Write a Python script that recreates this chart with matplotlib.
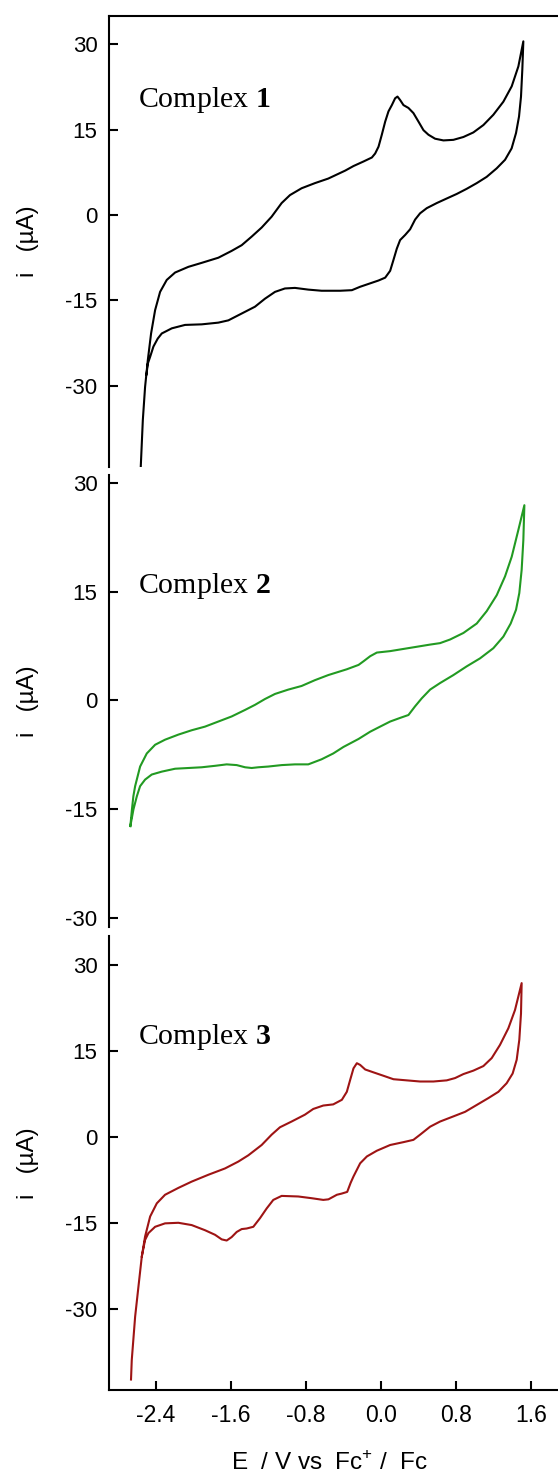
"""Cyclic voltammograms of complexes 1-3 (three stacked panels)."""
import matplotlib
matplotlib.use('Agg')
import matplotlib.pyplot as plt

plt.rcParams.update({
    'font.family': ['Liberation Sans', 'DejaVu Sans'],
    'axes.unicode_minus': False,
    'mathtext.fontset': 'custom',
    'mathtext.rm': 'Liberation Sans',
    'mathtext.bf': 'Liberation Serif:bold',
})

# ── Data (E in V vs Fc+/Fc, i in uA), traced round each loop ──────────

e_c1 = [-2.561, -2.539, -2.515, -2.486, -2.451, -2.408, -2.355, -2.284, -2.195,
        -2.053, -1.911, -1.734, -1.592, -1.485, -1.379, -1.272, -1.166, -1.059,
        -0.970, -0.846, -0.704, -0.562, -0.381, -0.293, -0.186, -0.097, -0.062,
        -0.026, 0.009, 0.045, 0.080, 0.116, 0.151, 0.176, 0.204, 0.240, 0.293,
        0.346, 0.400, 0.453, 0.506, 0.577, 0.666, 0.772, 0.879, 0.985, 1.092,
        1.198, 1.305, 1.394, 1.465, 1.518,
        1.507, 1.493, 1.472, 1.440, 1.393, 1.323, 1.234, 1.127, 1.021, 0.914,
        0.808, 0.701, 0.595, 0.488, 0.417, 0.364, 0.311, 0.258, 0.204, 0.169,
        0.133, 0.098, 0.045, -0.026, -0.115, -0.222, -0.310, -0.435, -0.541,
        -0.633, -0.775, -0.917, -1.024, -1.130, -1.237, -1.343, -1.485, -1.627,
        -1.734, -1.911, -2.089, -2.230, -2.337, -2.380, -2.426, -2.461, -2.486,
        -2.500]
i_c1 = [-44.2, -36.0, -30.2, -25.5, -20.8, -16.7, -13.5, -11.4, -10.1,
        -9.1, -8.4, -7.5, -6.3, -5.3, -3.8, -2.2, -0.3, 2.1,
        3.5, 4.7, 5.6, 6.4, 7.8, 8.6, 9.4, 10.1, 10.8,
        12.0, 14.1, 16.4, 18.2, 19.3, 20.5, 20.8, 20.2, 19.3, 18.8,
        17.9, 16.4, 14.9, 14.1, 13.4, 13.1, 13.2, 13.7, 14.5, 15.8,
        17.6, 19.9, 22.6, 26.1, 30.5,
        25.5, 20.8, 17.3, 14.4, 11.7, 9.7, 8.2, 6.7, 5.6, 4.6,
        3.7, 2.9, 2.1, 1.2, 0.3, -0.8, -2.5, -3.5, -4.4, -5.9,
        -7.9, -9.8, -11.0, -11.5, -12.0, -12.6, -13.2, -13.3, -13.3,
        -13.3, -13.1, -12.8, -12.9, -13.5, -14.7, -16.1, -17.3, -18.5,
        -18.9, -19.2, -19.3, -19.9, -20.8, -21.7, -23.1, -24.9, -26.1,
        -28.0]

e_c2 = [-2.672, -2.655, -2.640, -2.621, -2.568, -2.497, -2.408, -2.302, -2.160,
        -2.018, -1.876, -1.734, -1.592, -1.449, -1.343, -1.237, -1.130, -0.988,
        -0.846, -0.704, -0.562, -0.364, -0.239, -0.186, -0.115, -0.044, 0.098,
        0.240, 0.382, 0.524, 0.630, 0.737, 0.879, 1.021, 1.127, 1.234, 1.323,
        1.394, 1.465, 1.529,
        1.518, 1.500, 1.475, 1.440, 1.383, 1.305, 1.198, 1.056, 0.914, 0.772,
        0.630, 0.524, 0.435, 0.364, 0.293, 0.204, 0.098, -0.009, -0.115, -0.239,
        -0.400, -0.509, -0.633, -0.775, -0.917, -1.059, -1.201, -1.308, -1.379,
        -1.449, -1.538, -1.645, -1.769, -1.911, -2.053, -2.195, -2.337, -2.444,
        -2.515, -2.568, -2.603, -2.639, -2.672]
i_c2 = [-17.3, -15.0, -13.2, -11.8, -9.1, -7.3, -6.1, -5.4, -4.7,
        -4.1, -3.6, -2.9, -2.2, -1.3, -0.6, 0.2, 0.9, 1.5,
        2.0, 2.8, 3.5, 4.3, 4.9, 5.4, 6.1, 6.6, 6.8,
        7.1, 7.4, 7.7, 7.9, 8.4, 9.3, 10.6, 12.3, 14.5, 17.1,
        19.8, 23.5, 26.9,
        22.1, 18.0, 14.8, 12.5, 10.6, 8.8, 7.2, 5.8, 4.7, 3.5,
        2.4, 1.5, 0.3, -0.8, -2.0, -2.4, -2.9, -3.6, -4.3, -5.3,
        -6.4, -7.3, -8.1, -8.8, -8.8, -8.9, -9.1, -9.2, -9.3,
        -9.2, -8.9, -8.8, -9.0, -9.2, -9.3, -9.4, -9.8, -10.2,
        -10.9, -11.8, -13.2, -15.0, -17.3]

e_c3 = [-2.665, -2.657, -2.621, -2.586, -2.550, -2.515, -2.461, -2.390, -2.302,
        -2.160, -2.018, -1.840, -1.663, -1.521, -1.414, -1.272, -1.166, -1.077,
        -0.953, -0.811, -0.722, -0.615, -0.509, -0.417, -0.364, -0.328, -0.293,
        -0.257, -0.222, -0.168, -0.080, 0.027, 0.133, 0.275, 0.417, 0.559,
        0.701, 0.790, 0.879, 0.985, 1.092, 1.181, 1.269, 1.358, 1.429, 1.500,
        1.493, 1.475, 1.447, 1.404, 1.340, 1.252, 1.145, 1.021, 0.897, 0.772,
        0.630, 0.524, 0.417, 0.346, 0.240, 0.098, -0.044, -0.150, -0.222,
        -0.293, -0.323, -0.360, -0.420, -0.470, -0.560, -0.615, -0.740, -0.882,
        -1.059, -1.148, -1.219, -1.290, -1.361, -1.432, -1.485, -1.538, -1.592,
        -1.645, -1.698, -1.769, -1.876, -2.018, -2.160, -2.302, -2.408, -2.479,
        -2.515, -2.550]
i_c3 = [-42.4, -39.0, -31.4, -26.2, -20.9, -17.4, -13.9, -11.6, -10.1,
        -8.9, -7.8, -6.6, -5.5, -4.3, -3.2, -1.4, 0.4, 1.7,
        2.7, 3.9, 4.9, 5.5, 5.7, 6.5, 7.9, 10.0, 12.0,
        12.9, 12.6, 11.8, 11.3, 10.7, 10.1, 9.9, 9.7, 9.7,
        9.9, 10.3, 11.0, 11.6, 12.4, 13.8, 16.1, 19.0, 22.2, 26.9,
        21.6, 17.0, 13.5, 11.1, 9.4, 7.9, 6.8, 5.6, 4.4, 3.6,
        2.7, 1.8, 0.4, -0.5, -0.9, -1.4, -2.4, -3.4, -4.6,
        -6.9, -8.0, -9.6, -9.9, -10.1, -10.9, -11.0, -10.7, -10.4,
        -10.3, -11.0, -12.5, -14.2, -15.7, -16.0, -16.1, -16.6, -17.5,
        -18.1, -17.9, -17.1, -16.3, -15.4, -15.0, -15.1, -15.7, -16.8,
        -18.0, -20.9]

labels = ['1', '2', '3']
colors = ['black', '#229a22', '#9e1414']
y_limits = [(-44.2, 35.0), (-31.16, 31.06), (-44.32, 35.14)]
label_y = [18.9, 14.8, 16.2]
y_ticks = [-30, -15, 0, 15, 30]
x_ticks = [-2.4, -1.6, -0.8, 0.0, 0.8, 1.6]

# ── Figure ───────────────────────────────────────────────────

fig = plt.figure(figsize=(5.58, 14.75), dpi=100)
left, width = 108.5 / 558, 1 - 108.5 / 558
rects = [(0.68359, 0.30576), (0.37173, 0.30624), (0.05729, 0.30814)]
series = [(e_c1, i_c1), (e_c2, i_c2), (e_c3, i_c3)]

for n, ((bottom, height), (e, i)) in enumerate(zip(rects, series)):
    ax = fig.add_axes([left, bottom, width, height])
    ax.plot(e, i, color=colors[n], linewidth=1.5, solid_joinstyle='round')
    ax.set_xlim(-2.905, 1.8875)
    ax.set_ylim(*y_limits[n])
    ax.set_yticks(y_ticks)
    ax.set_yticklabels([str(t) for t in y_ticks])
    ax.tick_params(axis='y', direction='in', length=6.5, width=1.5,
                   labelsize=16, pad=8)

    ax.spines['right'].set_visible(False)
    ax.spines['top'].set_visible(n == 0)
    ax.spines['bottom'].set_visible(n == 2)
    for s in ax.spines.values():
        s.set_linewidth(1.5)

    if n == 2:
        ax.set_xticks(x_ticks)
        ax.set_xticklabels([f'{t:.1f}' for t in x_ticks])
        ax.tick_params(axis='x', direction='in', length=6.5, width=1.5,
                       labelsize=16.5, pad=10)
        ax.set_xlabel('E  / V vs  Fc$^{+}$ /  Fc', fontsize=17.5, va='center')
        ax.xaxis.set_label_coords(0.4905, -0.159)
    else:
        ax.tick_params(axis='x', bottom=False, labelbottom=False)

    ax.set_ylabel('i   (\u00b5A)', fontsize=17.5, va='center')
    ax.yaxis.set_label_coords(-0.179, 0.5)

    ax.text(-2.59, label_y[n], 'Complex $\\mathbf{' + labels[n] + '}$',
            family='Liberation Serif', fontsize=21.5, ha='left', va='baseline')

fig.savefig('out.png', dpi=100)
print("Saved out.png")
